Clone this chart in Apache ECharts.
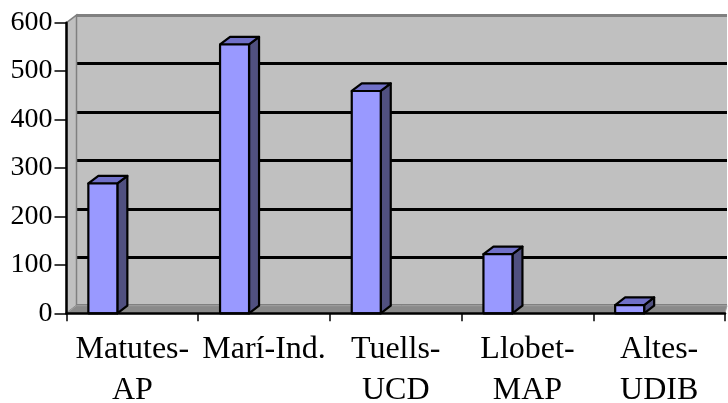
<!DOCTYPE html>
<html><head><meta charset="utf-8">
<script src="https://cdn.jsdelivr.net/npm/echarts@6/dist/echarts.min.js"></script>
<style>html,body{margin:0;padding:0;background:#fff}#c{width:728px;height:403px}</style>
</head><body><div id="c"></div>
<script>
const categories = ['Matutes-\nAP', 'Marí-Ind.', 'Tuells-\nUCD', 'Llobet-\nMAP', 'Altes-\nUDIB'];
const values = [268, 555, 459, 122, 17];
const yTicks = [0, 100, 200, 300, 400, 500, 600];

const DX = 10, DY = -7.6;
const BAR_W = 29, BAR_OFF = -29.5;
const FONT = '"Liberation Serif", "Times New Roman", serif';

const chart = echarts.init(document.getElementById('c'), null, {renderer: 'canvas'});

function renderWalls(params, api) {
  const cs = params.coordSys;
  const x0 = cs.x, x1 = cs.x + cs.width, yT = cs.y, yB = cs.y + cs.height;
  return {
    type: 'group',
    children: [
      { type: 'polygon', shape: { points: [[x0, yT], [x0 + DX, yT + DY], [x0 + DX, yB + DY], [x0, yB]] },
        style: { fill: '#c0c0c0', stroke: '#808080', lineWidth: 1.5 } },
      { type: 'polygon', shape: { points: [[x0, yB], [x1, yB], [x1 + 2, yB + DY], [x0 + DX, yB + DY]] },
        style: { fill: '#8a8a8a', stroke: '#a0a0a0', lineWidth: 1 } }
    ]
  };
}

function renderBar(params, api) {
  const i = api.value(0), v = api.value(1);
  const top = api.coord([i, v]);
  const base = api.coord([i, 0]);
  const cx = top[0] + BAR_OFF;
  const l = cx - BAR_W / 2, r = cx + BAR_W / 2;
  const st = { stroke: '#000', lineWidth: 2.2, lineJoin: 'round' };
  return {
    type: 'group',
    children: [
      { type: 'polygon', shape: { points: [[r, top[1]], [r + DX, top[1] + DY], [r + DX, base[1] + DY], [r, base[1]]] },
        style: Object.assign({ fill: '#505080' }, st) },
      { type: 'polygon', shape: { points: [[l, top[1]], [l + DX, top[1] + DY], [r + DX, top[1] + DY], [r, top[1]]] },
        style: Object.assign({ fill: '#7070c8' }, st) },
      { type: 'rect', shape: { x: l, y: top[1], width: BAR_W, height: base[1] - top[1] },
        style: Object.assign({ fill: '#9999ff' }, st) }
    ]
  };
}

chart.setOption({
  animation: false,
  backgroundColor: '#fff',
  grid: [
    { left: 66.5, right: 3, top: 22.7, bottom: 89.7, containLabel: false, outerBoundsMode: 'none' },
    { left: 76.5, right: 1, top: 15.1, bottom: 97.3, show: true, backgroundColor: '#c0c0c0', borderWidth: 0,
      containLabel: false, outerBoundsMode: 'none' }
  ],
  xAxis: [
    { type: 'category', gridIndex: 0, data: categories,
      axisLine: { show: true, lineStyle: { color: '#000', width: 2.5 } },
      axisTick: { show: true, inside: false, length: 8, lineStyle: { color: '#000', width: 1.5 } },
      axisLabel: { color: '#000', fontFamily: FONT, fontSize: 32, lineHeight: 41, margin: 16, interval: 0 },
      splitLine: { show: false }, z: 5 },
    { type: 'category', gridIndex: 1, data: categories, show: false }
  ],
  yAxis: [
    { type: 'value', gridIndex: 0, min: 0, max: 600, interval: 100,
      axisLine: { show: true, lineStyle: { color: '#000', width: 2.5 } },
      axisTick: { show: true, inside: false, length: 12, lineStyle: { color: '#000', width: 1.5 } },
      axisLabel: { color: '#000', fontFamily: FONT, fontSize: 28, margin: 14,
        formatter: (val) => yTicks.includes(val) ? String(val) : '' },
      splitLine: { show: false }, z: 5 },
    { type: 'value', gridIndex: 1, min: 0, max: 600, interval: 100,
      axisLine: { show: false }, axisTick: { show: false }, axisLabel: { show: false },
      splitLine: { show: true, lineStyle: { color: ['#808080', '#000', '#000', '#000', '#000', '#000', '#808080'], width: 2.8 } } }
  ],
  series: [
    { type: 'custom', xAxisIndex: 0, yAxisIndex: 0, renderItem: renderWalls, data: [[0, 0]], z: 1, silent: true },
    { type: 'custom', xAxisIndex: 0, yAxisIndex: 0, renderItem: renderBar,
      data: values.map((v, i) => [i, v]), z: 3, clip: false }
  ]
});
</script></body></html>
